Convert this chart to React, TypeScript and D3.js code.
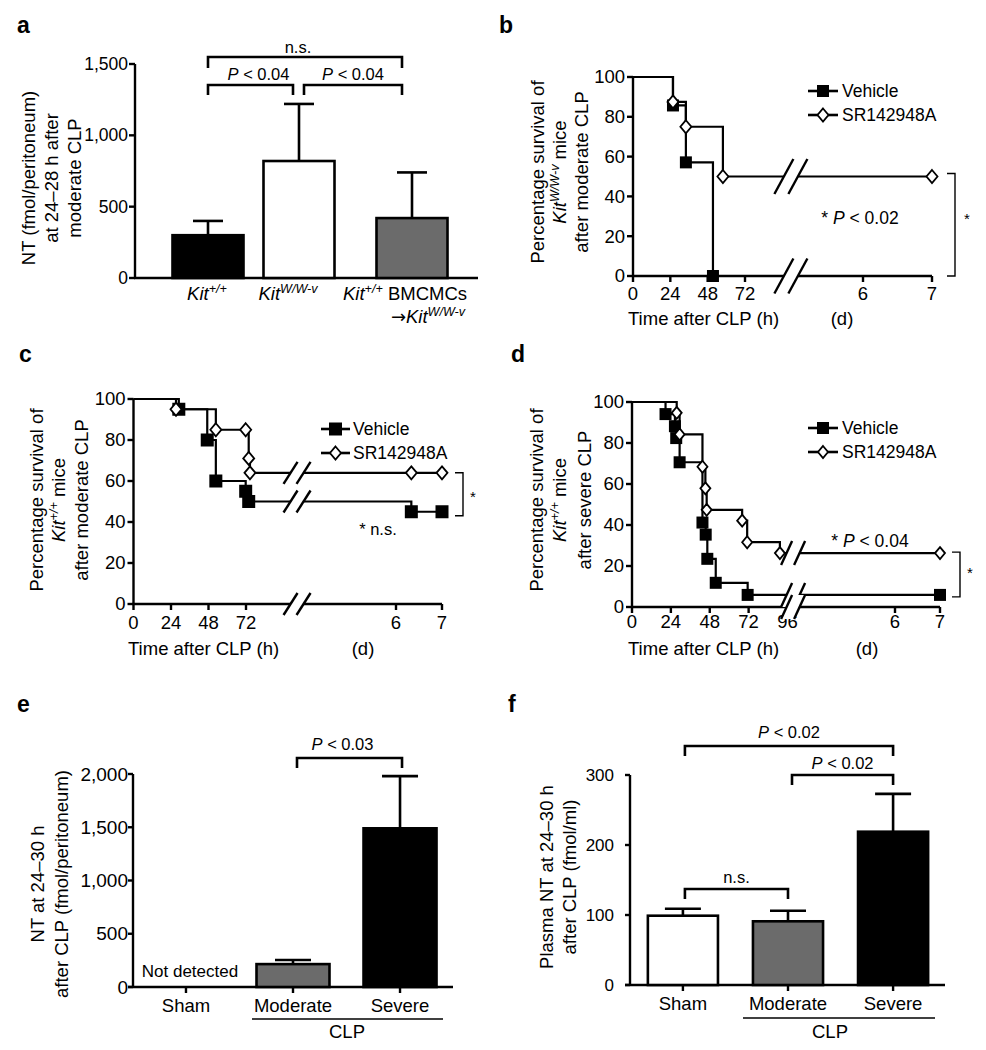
import React from "react";
import * as d3 from "d3";

const FONT = "'Liberation Sans', Arial, Helvetica, sans-serif";

// ---------------- Panel a data ----------------
const aGroups = ["Kit+/+", "KitW/W-v", "Kit+/+ BMCMCs → KitW/W-v"];
const aMeans = [300, 820, 420];
const aErrTops = [400, 1220, 740];
const aFills = ["#000000", "#ffffff", "#6b6b6b"];
const aYTicks = [0, 500, 1000, 1500];

// ---------------- Panel b data (time in hours; 6 d = 144 h, 7 d = 168 h) ----------------
const bVehTimes = [25.7, 34, 51.4, 168];
const bVehSurv = [85.7, 57.1, 0, 0];
const bVehMarks = [true, true, true, false];
const bSrTimes = [25.7, 34, 57.8, 168];
const bSrSurv = [87.5, 75, 50, 50];
const bSrMarks = [true, true, true, true];
const bHourTicks = [0, 24, 48, 72];
const bDayTicks = [144, 168];
const bDayLabels = ["6", "7"];

// ---------------- Panel c data ----------------
const cVehTimes = [29, 47.2, 52.7, 71.8, 73.3, 152, 168];
const cVehSurv = [95, 80, 60, 55, 50, 45, 45];
const cVehMarks = [true, true, true, true, true, true, true];
const cSrTimes = [27.2, 52.7, 71.8, 73.3, 73.9, 152, 168];
const cSrSurv = [95, 85, 85, 71, 64, 64, 64];
const cSrMarks = [true, true, true, true, true, true, true];
const cHourTicks = [0, 24, 48, 72];
const cDayTicks = [144, 168];
const cDayLabels = ["6", "7"];

// ---------------- Panel d data ----------------
const dVehTimes = [20.7, 26.5, 27.3, 29.4, 43.5, 45.5, 46.5, 51.7, 71.4, 168];
const dVehSurv = [94.1, 88.2, 82.4, 70.6, 41.2, 35.3, 23.5, 11.8, 5.9, 5.9];
const dVehMarks = [true, true, true, true, true, true, true, true, true, true];
const dSrTimes = [27.6, 29.4, 43.5, 45.3, 46.1, 68, 71.1, 91.3, 168];
const dSrSurv = [94.7, 84.2, 68.4, 57.9, 47.4, 42.1, 31.6, 26.3, 26.3];
const dSrMarks = [true, true, true, true, true, true, true, true, true];
const dHourTicks = [0, 24, 48, 72, 96];
const dDayTicks = [144, 168];
const dDayLabels = ["6", "7"];

const kmYTicks = [0, 20, 40, 60, 80, 100];

// ---------------- Panel e data ----------------
const eGroups = ["Sham", "Moderate", "Severe"];
const eMeans = [null, 215, 1490];
const eErrTops = [null, 253, 1980];
const eFills = ["#ffffff", "#6b6b6b", "#000000"];
const eYTicks = [0, 500, 1000, 1500, 2000];

// ---------------- Panel f data ----------------
const fGroups = ["Sham", "Moderate", "Severe"];
const fMeans = [99, 91, 219];
const fErrTops = [109, 106, 273];
const fFills = ["#ffffff", "#6b6b6b", "#000000"];
const fYTicks = [0, 100, 200, 300];

const fmt = d3.format(",");

// ---------------- helpers ----------------
function VLabel({ xs, cy, lines, fs }: any) {
  return (
    <>
      {lines.map((ln: any, i: number) => (
        <text
          key={i}
          transform={`translate(${xs[i]},${cy}) rotate(-90)`}
          textAnchor="middle"
          dy="0.35em"
          fontSize={fs}
        >
          {ln}
        </text>
      ))}
    </>
  );
}

function Bracket({ x1, x2, top, leg1, leg2, label, labelY, fs, dx = 0 }: any) {
  return (
    <g>
      <path
        d={`M${x1},${leg1}V${top}H${x2}V${leg2}`}
        fill="none"
        stroke="#000"
        strokeWidth={2.6}
      />
      <text x={(x1 + x2) / 2 + dx} y={labelY} textAnchor="middle" fontSize={fs}>
        {label}
      </text>
    </g>
  );
}

const PLess = (v: string) => (
  <>
    <tspan fontStyle="italic">P</tspan>
    {` < ${v}`}
  </>
);

function YAxis({ y, ticks, axisX, tickLen, fs, labelGap, format }: any) {
  const [r0, r1] = y.range();
  return (
    <g>
      <line x1={axisX} x2={axisX} y1={r0} y2={r1} stroke="#000" strokeWidth={2.4} />
      {ticks.map((t: number) => (
        <g key={t}>
          <line x1={axisX - tickLen} x2={axisX} y1={y(t)} y2={y(t)} stroke="#000" strokeWidth={2.4} />
          <text x={axisX - tickLen - labelGap} y={y(t)} dy="0.35em" textAnchor="end" fontSize={fs}>
            {format ? format(t) : t}
          </text>
        </g>
      ))}
    </g>
  );
}

function BarSet({ groups, means, errs, fills, x, y, bw, capW }: any) {
  return (
    <g>
      {groups.map((g: string, i: number) => {
        if (means[i] == null) return null;
        const cx = x(g);
        return (
          <g key={g}>
            <line x1={cx} x2={cx} y1={y(means[i])} y2={y(errs[i])} stroke="#000" strokeWidth={2.6} />
            <line x1={cx - capW / 2} x2={cx + capW / 2} y1={y(errs[i])} y2={y(errs[i])} stroke="#000" strokeWidth={2.6} />
            <rect
              x={cx - bw / 2}
              y={y(means[i])}
              width={bw}
              height={y(0) - y(means[i])}
              fill={fills[i]}
              stroke="#000"
              strokeWidth={2.6}
            />
          </g>
        );
      })}
    </g>
  );
}

function stepPath(x: any, y: any, times: number[], surv: number[]) {
  let d = `M${x(0)},${y(100)}`;
  times.forEach((t, i) => {
    d += `H${x(t)}V${y(surv[i])}`;
  });
  return d;
}

function Square({ cx, cy, s }: any) {
  return <rect x={cx - s / 2} y={cy - s / 2} width={s} height={s} fill="#000" />;
}
function Diamond({ cx, cy, w, h }: any) {
  return (
    <path
      d={`M${cx},${cy - h}L${cx + w},${cy}L${cx},${cy + h}L${cx - w},${cy}Z`}
      fill="#fff"
      stroke="#000"
      strokeWidth={1.8}
    />
  );
}

function BreakMark({ cx, cy, dx, dy, gap }: any) {
  const s1 = cx - gap / 2;
  const s2 = cx + gap / 2;
  const pts = [
    [s1 - dx / 2, cy + dy / 2],
    [s1 + dx / 2, cy - dy / 2],
    [s2 + dx / 2, cy - dy / 2],
    [s2 - dx / 2, cy + dy / 2],
  ];
  return (
    <g>
      <polygon points={pts.map((p) => p.join(",")).join(" ")} fill="#fff" />
      <line x1={s1 - dx / 2} y1={cy + dy / 2} x2={s1 + dx / 2} y2={cy - dy / 2} stroke="#000" strokeWidth={2.4} />
      <line x1={s2 - dx / 2} y1={cy + dy / 2} x2={s2 + dx / 2} y2={cy - dy / 2} stroke="#000" strokeWidth={2.4} />
    </g>
  );
}

function KMPanel(props: any) {
  const {
    x, y, veh, sr, hourTicks, dayTicks, dayLabels, breakT, breakLevels, brk,
    tickFS, sq, dm, legend, titleX, titleY, dX, tickLabelY,
  } = props;
  const x0 = x(0);
  const xEnd = x(168);
  return (
    <g>
      {/* axes */}
      <line x1={x0} x2={x0} y1={y(0)} y2={y(100)} stroke="#000" strokeWidth={2.4} />
      {kmYTicks.map((t) => (
        <g key={t}>
          <line x1={x0 - 6} x2={x0} y1={y(t)} y2={y(t)} stroke="#000" strokeWidth={2.4} />
          <text x={x0 - 8} y={y(t)} dy="0.35em" textAnchor="end" fontSize={tickFS}>
            {t}
          </text>
        </g>
      ))}
      <line x1={x0 - 1} x2={xEnd} y1={y(0)} y2={y(0)} stroke="#000" strokeWidth={2.4} />
      {hourTicks.concat(dayTicks).map((t: number) => (
        <line key={t} x1={x(t)} x2={x(t)} y1={y(0)} y2={y(0) + 6} stroke="#000" strokeWidth={2.4} />
      ))}
      {hourTicks.map((t: number) => (
        <text key={t} x={x(t)} y={tickLabelY} textAnchor="middle" fontSize={tickFS}>
          {t}
        </text>
      ))}
      {dayTicks.map((t: number, i: number) => (
        <text key={t} x={x(t)} y={tickLabelY} textAnchor="middle" fontSize={tickFS}>
          {dayLabels[i]}
        </text>
      ))}
      <text x={titleX} y={titleY} fontSize={18.5}>
        Time after CLP (h)
      </text>
      <text x={dX} y={titleY} textAnchor="middle" fontSize={18.5}>
        (d)
      </text>
      {/* curves */}
      <path d={stepPath(x, y, sr.times, sr.surv)} fill="none" stroke="#000" strokeWidth={2.2} />
      <path d={stepPath(x, y, veh.times, veh.surv)} fill="none" stroke="#000" strokeWidth={2.2} />
      {/* breaks */}
      {breakLevels.map((lv: number) => (
        <BreakMark key={lv} cx={x(breakT)} cy={y(lv)} dx={brk.dx} dy={brk.dy} gap={brk.gap} />
      ))}
      {/* markers */}
      {veh.times.map((t: number, i: number) =>
        veh.marks[i] ? <Square key={"v" + i} cx={x(t)} cy={y(veh.surv[i])} s={sq} /> : null
      )}
      {sr.times.map((t: number, i: number) =>
        sr.marks[i] ? <Diamond key={"s" + i} cx={x(t)} cy={y(sr.surv[i])} w={dm[0]} h={dm[1]} /> : null
      )}
      {/* legend */}
      <g>
        <line x1={legend.x1} x2={legend.x2} y1={legend.y1} y2={legend.y1} stroke="#000" strokeWidth={2.6} />
        <Square cx={(legend.x1 + legend.x2) / 2} cy={legend.y1} s={sq} />
        <text x={legend.tx} y={legend.y1} dy="0.35em" fontSize={17.5}>
          Vehicle
        </text>
        <line x1={legend.x1} x2={legend.x2} y1={legend.y2} y2={legend.y2} stroke="#000" strokeWidth={2.6} />
        <Diamond cx={(legend.x1 + legend.x2) / 2} cy={legend.y2} w={dm[0]} h={dm[1]} />
        <text x={legend.tx} y={legend.y2} dy="0.35em" fontSize={17.5}>
          SR142948A
        </text>
      </g>
    </g>
  );
}

function SideBracket({ x, yTop, yBot, starX, starY }: any) {
  return (
    <g>
      <path d={`M${x - 8},${yTop}H${x}V${yBot}H${x - 8}`} fill="none" stroke="#000" strokeWidth={1.4} />
      <text x={starX} y={starY} textAnchor="middle" fontSize={15}>
        *
      </text>
    </g>
  );
}

const KitSup = ({ sup, fs, after }: any) => (
  <>
    <tspan fontStyle="italic">Kit</tspan>
    <tspan fontSize={fs * 0.68} dy={-fs * 0.4} fontStyle="italic">
      {sup}
    </tspan>
    {after != null ? <tspan dy={fs * 0.4}>{after}</tspan> : null}
  </>
);

// ---------------- Panels ----------------
function PanelA() {
  const y = d3.scaleLinear().domain([0, 1500]).range([278, 64]);
  const x = d3.scaleOrdinal<string, number>().domain(aGroups).range([208, 299, 412]);
  const axisX = 135;
  return (
    <g>
      <text x={17} y={33} fontSize={23} fontWeight="bold">a</text>
      <VLabel
        xs={[29, 52, 75]}
        cy={178}
        fs={18.5}
        lines={["NT (fmol/peritoneum)", "at 24–28 h after", "moderate CLP"]}
      />
      <YAxis y={y} ticks={aYTicks} axisX={axisX} tickLen={6} fs={17.5} labelGap={1} format={fmt} />
      <line x1={axisX - 1} x2={478} y1={y(0)} y2={y(0)} stroke="#000" strokeWidth={2.4} />
      <BarSet groups={aGroups} means={aMeans} errs={aErrTops} fills={aFills} x={x} y={y} bw={71} capW={30} />
      <Bracket x1={x(aGroups[0])} x2={x(aGroups[2]) - 10} top={57} leg1={68} leg2={68} label="n.s." labelY={53} fs={16.5} dx={-7} />
      <Bracket x1={x(aGroups[0])} x2={x(aGroups[1]) - 6} top={85} leg1={95} leg2={95} label={PLess("0.04")} labelY={80} fs={16.5} dx={8} />
      <Bracket x1={x(aGroups[1]) + 5} x2={x(aGroups[2]) - 10} top={85} leg1={95} leg2={95} label={PLess("0.04")} labelY={80} fs={16.5} />
      <text x={x(aGroups[0]) - 1} y={300} textAnchor="middle" fontSize={18.5}>
        <KitSup sup="+/+" fs={18.5} />
      </text>
      <text x={x(aGroups[1]) - 11} y={300} textAnchor="middle" fontSize={18.5}>
        <KitSup sup="W/W-v" fs={18.5} />
      </text>
      <text x={x(aGroups[2]) - 7} y={300} textAnchor="middle" fontSize={18.5}>
        <KitSup sup="+/+" fs={18.5} after=" BMCMCs" />
      </text>
      <text x={x(aGroups[2]) + 16} y={323} textAnchor="middle" fontSize={18.5}>
        <tspan fontFamily="'DejaVu Sans', sans-serif" fontSize={18}>→</tspan>
        <KitSup sup="W/W-v" fs={18.5} />
      </text>
    </g>
  );
}

function PanelB() {
  const x = d3.scaleLinear().domain([0, 72, 144, 168]).range([633, 745, 863, 932]);
  const y = d3.scaleLinear().domain([0, 100]).range([276, 77]);
  return (
    <g>
      <text x={499} y={33} fontSize={23} fontWeight="bold">b</text>
      <VLabel
        xs={[538, 560, 582]}
        cy={172}
        fs={18.5}
        lines={[
          "Percentage survival of",
          <KitSup sup="W/W-v" fs={18.5} after=" mice" />,
          "after moderate CLP",
        ]}
      />
      <KMPanel
        x={x}
        y={y}
        veh={{ times: bVehTimes, surv: bVehSurv, marks: bVehMarks }}
        sr={{ times: bSrTimes, surv: bSrSurv, marks: bSrMarks }}
        hourTicks={bHourTicks}
        dayTicks={bDayTicks}
        dayLabels={bDayLabels}
        breakT={100}
        breakLevels={[50, 0]}
        brk={{ dx: 19, dy: 35, gap: 14 }}
        tickFS={18.5}
        sq={12}
        dm={[5.5, 6.5]}
        legend={{ x1: 808, x2: 838, y1: 91, y2: 115, tx: 842 }}
        titleX={628}
        titleY={325}
        dX={842}
        tickLabelY={300}
      />
      <text x={860} y={224} textAnchor="middle" fontSize={17.5}>
        {"* "}
        <tspan fontStyle="italic">P</tspan>
        {" < 0.02"}
      </text>
      <SideBracket x={955} yTop={y(50) - 3} yBot={y(0)} starX={967} starY={224} />
    </g>
  );
}

function PanelC() {
  const x = d3.scaleLinear().domain([0, 72, 144, 168]).range([133.5, 246, 396, 442]);
  const y = d3.scaleLinear().domain([0, 100]).range([604, 399]);
  return (
    <g>
      <text x={19} y={362} fontSize={23} fontWeight="bold">c</text>
      <VLabel
        xs={[37, 59, 82]}
        cy={500}
        fs={18.5}
        lines={[
          "Percentage survival of",
          <KitSup sup="+/+" fs={18.5} after="  mice" />,
          "after moderate CLP",
        ]}
      />
      <KMPanel
        x={x}
        y={y}
        veh={{ times: cVehTimes, surv: cVehSurv, marks: cVehMarks }}
        sr={{ times: cSrTimes, surv: cSrSurv, marks: cSrMarks }}
        hourTicks={cHourTicks}
        dayTicks={cDayTicks}
        dayLabels={cDayLabels}
        breakT={96.5}
        breakLevels={[64, 50, 0]}
        brk={{ dx: 14, dy: 22, gap: 13 }}
        tickFS={18.5}
        sq={13}
        dm={[5.5, 6.5]}
        legend={{ x1: 321, x2: 350, y1: 429, y2: 453, tx: 353 }}
        titleX={128}
        titleY={655}
        dX={363}
        tickLabelY={629}
      />
      <text x={378} y={535} textAnchor="middle" fontSize={16.5}>
        * n.s.
      </text>
      <SideBracket x={463} yTop={y(64)} yBot={y(45) + 4} starX={473} starY={502} />
    </g>
  );
}

function PanelD() {
  const x = d3.scaleLinear().domain([0, 96, 144, 168]).range([632, 787.5, 895, 940]);
  const y = d3.scaleLinear().domain([0, 100]).range([607, 402]);
  return (
    <g>
      <text x={511} y={362} fontSize={23} fontWeight="bold">d</text>
      <VLabel
        xs={[537, 560, 585]}
        cy={500}
        fs={18.5}
        lines={[
          "Percentage survival of",
          <KitSup sup="+/+" fs={18.5} after="  mice" />,
          "after severe CLP",
        ]}
      />
      <KMPanel
        x={x}
        y={y}
        veh={{ times: dVehTimes, surv: dVehSurv, marks: dVehMarks }}
        sr={{ times: dSrTimes, surv: dSrSurv, marks: dSrMarks }}
        hourTicks={dHourTicks}
        dayTicks={dDayTicks}
        dayLabels={dDayLabels}
        breakT={98.5}
        breakLevels={[26.3, 5.9, 0]}
        brk={{ dx: 11, dy: 24, gap: 13 }}
        tickFS={18.5}
        sq={12}
        dm={[5, 6]}
        legend={{ x1: 808, x2: 838, y1: 428, y2: 452, tx: 842 }}
        titleX={628}
        titleY={655}
        dX={867}
        tickLabelY={628}
      />
      <text x={870} y={547} textAnchor="middle" fontSize={17.5}>
        {"* "}
        <tspan fontStyle="italic">P</tspan>
        {" < 0.04"}
      </text>
      <SideBracket x={960} yTop={y(26.3) - 1} yBot={y(5.9) + 2} starX={970} starY={578} />
    </g>
  );
}

function PanelE() {
  const y = d3.scaleLinear().domain([0, 2000]).range([987, 774]);
  const x = d3.scaleBand<string>().domain(eGroups).range([133, 453]).paddingInner(0.318).paddingOuter(0.154);
  const cx = (g: string) => (x(g) as number) + x.bandwidth() / 2;
  const axisX = 133;
  return (
    <g>
      <text x={17} y={712} fontSize={23} fontWeight="bold">e</text>
      <VLabel xs={[38, 62]} cy={884} fs={18.5} lines={["NT at 24–30 h", "after CLP (fmol/peritoneum)"]} />
      <YAxis y={y} ticks={eYTicks} axisX={axisX} tickLen={5} fs={19} labelGap={0} format={fmt} />
      <line x1={axisX - 5} x2={453} y1={y(0)} y2={y(0)} stroke="#000" strokeWidth={2.4} />
      {eGroups.map((g) => (
        <line key={g} x1={cx(g)} x2={cx(g)} y1={y(0)} y2={y(0) + 6} stroke="#000" strokeWidth={2.4} />
      ))}
      <BarSet groups={eGroups} means={eMeans} errs={eErrTops} fills={eFills} x={cx} y={y} bw={x.bandwidth()} capW={36} />
      <text x={cx("Sham") + 4} y={977} textAnchor="middle" fontSize={17}>
        Not detected
      </text>
      {eGroups.map((g) => (
        <text key={g} x={cx(g)} y={1012} textAnchor="middle" fontSize={18.5}>
          {g}
        </text>
      ))}
      <line x1={252} x2={443} y1={1019} y2={1019} stroke="#000" strokeWidth={1.5} />
      <text x={347} y={1038} textAnchor="middle" fontSize={18.5}>
        CLP
      </text>
      <Bracket x1={cx("Moderate") + 4} x2={cx("Severe") + 2} top={758} leg1={768} leg2={768} label={PLess("0.03")} labelY={750} fs={16.5} dx={-7} />
    </g>
  );
}

function PanelF() {
  const y = d3.scaleLinear().domain([0, 300]).range([985, 775]);
  const x = d3.scaleBand<string>().domain(fGroups).range([630, 946]).paddingInner(0.333).paddingOuter(0.17);
  const cx = (g: string) => (x(g) as number) + x.bandwidth() / 2;
  const axisX = 630;
  return (
    <g>
      <text x={508} y={712} fontSize={23} fontWeight="bold">f</text>
      <VLabel xs={[547, 570]} cy={877} fs={18.5} lines={["Plasma NT at 24–30 h", "after CLP (fmol/ml)"]} />
      <YAxis y={y} ticks={fYTicks} axisX={axisX} tickLen={5} fs={17} labelGap={11} />
      <line x1={axisX - 5} x2={945} y1={y(0)} y2={y(0)} stroke="#000" strokeWidth={2.4} />
      {fGroups.map((g) => (
        <line key={g} x1={cx(g)} x2={cx(g)} y1={y(0)} y2={y(0) + 6} stroke="#000" strokeWidth={2.4} />
      ))}
      <BarSet groups={fGroups} means={fMeans} errs={fErrTops} fills={fFills} x={cx} y={y} bw={x.bandwidth()} capW={36} />
      {fGroups.map((g) => (
        <text key={g} x={cx(g)} y={1010} textAnchor="middle" fontSize={18.5}>
          {g}
        </text>
      ))}
      <line x1={743} x2={935} y1={1018} y2={1018} stroke="#000" strokeWidth={1.5} />
      <text x={830} y={1038} textAnchor="middle" fontSize={18.5}>
        CLP
      </text>
      <Bracket x1={cx("Sham") + 2} x2={cx("Severe")} top={746} leg1={756} leg2={756} label={PLess("0.02")} labelY={738} fs={16.5} />
      <Bracket x1={cx("Moderate") + 4} x2={cx("Severe")} top={775} leg1={785} leg2={785} label={PLess("0.02")} labelY={769} fs={16.5} />
      <Bracket x1={cx("Sham") + 2} x2={cx("Moderate")} top={889} leg1={899} leg2={899} label="n.s." labelY={883} fs={16.5} />
    </g>
  );
}

export default function App() {
  return (
    <svg
      width={986}
      height={1050}
      viewBox="0 0 986 1050"
      style={{ position: "absolute", left: 0, top: 0, display: "block" }}
      fontFamily={FONT}
    >
      <rect width={986} height={1050} fill="#fff" />
      <PanelA />
      <PanelB />
      <PanelC />
      <PanelD />
      <PanelE />
      <PanelF />
    </svg>
  );
}
